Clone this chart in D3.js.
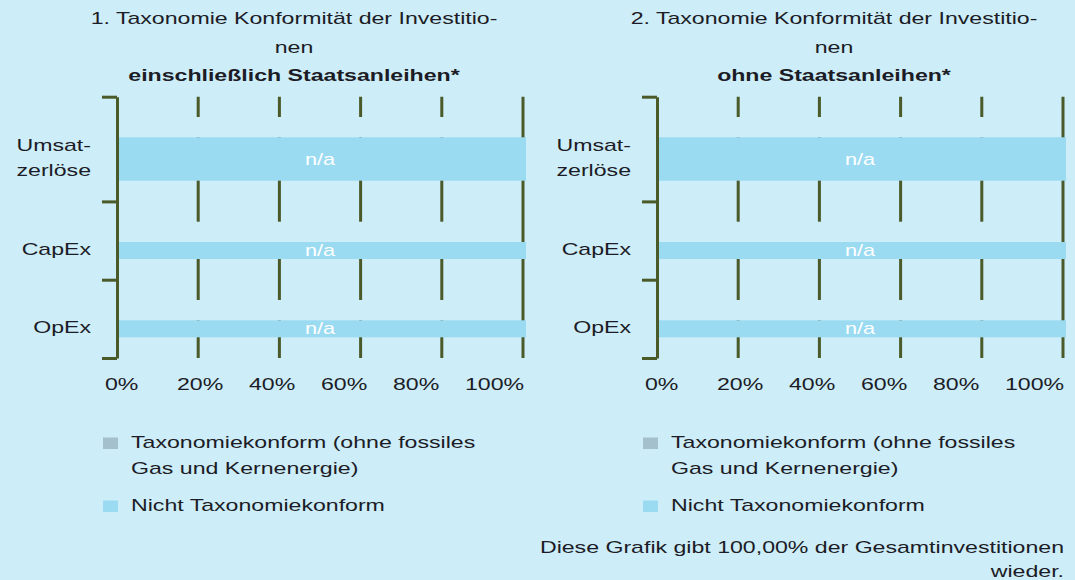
<!DOCTYPE html>
<html>
<head>
<meta charset="utf-8">
<script src="https://cdn.jsdelivr.net/npm/d3@7"></script>
<style>
  html, body { margin: 0; padding: 0; background: #cdedf8; }
  svg { display: block; font-family: "Liberation Sans", Arial, sans-serif; }
</style>
</head>
<body>
<div id="chart"></div>
<script>
// data
const categories = ["Umsatzerlöse", "CapEx", "OpEx"];
const categoryLines = [["Umsat-", "zerlöse"], ["CapEx"], ["OpEx"]];
const alignedIncl = [0, 0, 0];          // Taxonomiekonform, incl. Staatsanleihen
const notAlignedIncl = [100, 100, 100]; // Nicht Taxonomiekonform
const alignedExcl = [0, 0, 0];
const notAlignedExcl = [100, 100, 100];
const barLabels = ["n/a", "n/a", "n/a"];
const xTicks = [0, 20, 40, 60, 80, 100];
const titlesIncl = ["1. Taxonomie Konformität der Investitio-", "nen", "einschließlich Staatsanleihen*"];
const titlesExcl = ["2. Taxonomie Konformität der Investitio-", "nen", "ohne Staatsanleihen*"];
const legendLabels = [["Taxonomiekonform (ohne fossiles", "Gas und Kernenergie)"], ["Nicht Taxonomiekonform"]];
const footnote = ["Diese Grafik gibt 100,00% der Gesamtinvestitionen", "wieder."];

const W = 1075, H = 580;
const bg = "#cdedf8", barBlue = "#9bdbf2", barGrey = "#a4c0cc", lineCol = "#4b5a29", textCol = "#1c1c26";
const SX = 1.36; // the source is stretched sideways

const svg = d3.select("#chart").append("svg")
    .attr("width", W)
    .attr("height", H);

svg.append("rect").attr("width", W).attr("height", H).attr("fill", bg);

// stretched text helper
function stext(g, x, y, str, anchor, size, weight, fill) {
  return g.append("text")
    .attr("transform", `translate(${x},${y}) scale(${SX},1)`)
    .attr("text-anchor", anchor)
    .style("font-size", size + "px")
    .style("font-weight", weight || "normal")
    .style("fill", fill || textCol)
    .text(str);
}

function drawPanel(x0, titles, aligned, notAligned) {
  const g = svg.append("g");
  const top = 96.7;

  const x = d3.scaleLinear().domain([0, 100]).range([x0, x0 + 406]);
  const xLab = d3.scaleLinear().domain([0, 100]).range([x0 - 12, x0 + 348]);

  // band layout (first band is taller because of the two-line label)
  let cur = top;
  const rows = categories.map((c, i) => {
    const barH = 17 + (categoryLines[i].length - 1) * 26.4;
    const r = { cat: c, i: i, top: cur, barTop: cur + 40.6, barH: barH, bandH: 61.3 + barH };
    cur += r.bandH;
    return r;
  });
  const bottom = cur;

  // titles
  const cx = x0 + 203 - 26;
  titles.forEach((t, k) => {
    stext(g, cx, 24 + k * 28.5, t, "middle", 17, k === 2 ? "bold" : "normal");
  });

  // gridlines
  g.selectAll(".grid")
    .data(xTicks.filter(d => d > 0))
    .join("line")
      .attr("x1", d => x(d)).attr("x2", d => x(d))
      .attr("y1", top).attr("y2", bottom)
      .attr("stroke", lineCol)
      .attr("stroke-width", 3);

  // empty strip above each bar
  g.selectAll(".gap")
    .data(rows)
    .join("rect")
      .attr("x", x(0) + 2)
      .attr("width", x(100) - x(0) - 5)
      .attr("y", d => d.top + 20.3)
      .attr("height", 20.3)
      .attr("fill", bg);

  // stacked bars
  const stackData = rows.map(r => ({ r: r, a: aligned[r.i], n: notAligned[r.i] }));
  g.selectAll(".barA")
    .data(stackData)
    .join("rect")
      .attr("x", d => x(0))
      .attr("width", d => x(d.a) - x(0))
      .attr("y", d => d.r.barTop)
      .attr("height", d => d.r.barH)
      .attr("fill", barGrey);
  g.selectAll(".barN")
    .data(stackData)
    .join("rect")
      .attr("x", d => x(d.a))
      .attr("width", d => x(d.a + d.n) - x(d.a) + 3)
      .attr("y", d => d.r.barTop)
      .attr("height", d => d.r.barH)
      .attr("fill", barBlue);

  // n/a labels
  rows.forEach(r => {
    stext(g, x(50), r.barTop + r.barH / 2 + 5.5, barLabels[r.i], "middle", 16, "normal", "#ffffff");
  });

  // y axis
  const yId = d3.scaleLinear().domain([top, bottom]).range([top, bottom]);
  const yAxis = g.append("g")
    .attr("transform", `translate(${x0},0)`)
    .call(d3.axisLeft(yId)
      .tickValues(rows.map(r => r.top).concat([bottom]))
      .tickSize(15)
      .tickSizeOuter(0)
      .tickFormat(""));
  yAxis.selectAll("path, line").attr("stroke", lineCol).attr("stroke-width", 3);

  // category labels
  rows.forEach(r => {
    const lines = categoryLines[r.i];
    const c = r.barTop + r.barH / 2;
    lines.forEach((l, k) => {
      stext(g, x0 - 26, c + 4.5 - (lines.length - 1) * 12.35 + k * 24.7, l, "end", 17);
    });
  });

  // x tick labels
  xTicks.forEach(t => {
    stext(g, xLab(t), 390, t + "%", "start", 17);
  });

  // legend
  const lx = x0 - 14;
  const ly = [448, 511];
  legendLabels.forEach((lines, k) => {
    g.append("rect")
      .attr("x", lx).attr("y", ly[k] - 10.5)
      .attr("width", 15).attr("height", 11.5)
      .attr("fill", k === 0 ? barGrey : barBlue);
    lines.forEach((l, j) => {
      stext(g, lx + 28, ly[k] + j * 26, l, "start", 17);
    });
  });
}

drawPanel(117, titlesIncl, alignedIncl, notAlignedIncl);
drawPanel(657, titlesExcl, alignedExcl, notAlignedExcl);

// footnote
footnote.forEach((t, k) => {
  stext(svg, 1064, 553 + k * 24, t, "end", 17);
});
</script>
</body>
</html>
